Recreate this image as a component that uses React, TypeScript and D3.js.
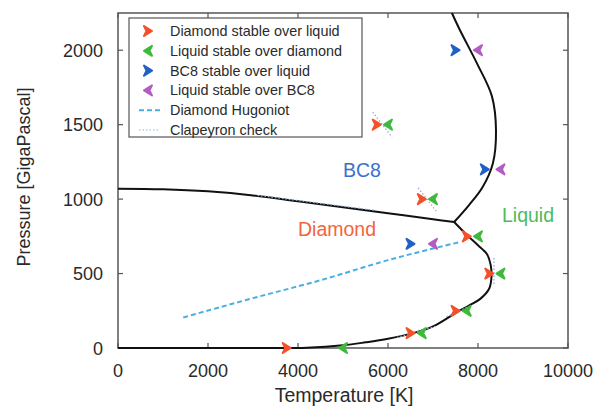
import React from "react";
import * as d3 from "d3";

const W = 601, H = 409;
const M = { left: 118, right: 568, top: 13, bottom: 348 };

const xTicks = [0, 2000, 4000, 6000, 8000, 10000];
const yTicks = [0, 500, 1000, 1500, 2000];

// [Temperature K, Pressure GPa]
const diamondStable: [number, number][] = [
  [3750, 0], [6500, 100], [7500, 250], [8250, 500], [7750, 750], [6750, 1000], [5750, 1500],
];
const liquidOverDiamond: [number, number][] = [
  [5000, 0], [6750, 100], [7750, 250], [8500, 500], [8000, 750], [7000, 1000], [6000, 1500],
];
const bc8Stable: [number, number][] = [
  [7500, 2000], [8150, 1200], [6500, 700],
];
const liquidOverBC8: [number, number][] = [
  [8000, 2000], [8500, 1200], [7000, 700],
];

const diamondBC8Boundary: [number, number][] = [
  [0, 1070], [1000, 1066], [2000, 1052], [3000, 1025], [4000, 985], [5000, 945],
  [6000, 905], [7000, 865], [7470, 846],
];
const meltingDiamond: [number, number][] = [
  [0, 0], [3000, 0], [4200, 2], [5000, 18], [5500, 38], [6000, 62], [6500, 95],
  [7000, 145], [7500, 235], [7800, 285], [8050, 330], [8250, 400], [8300, 480],
  [8280, 560], [8200, 630], [8000, 690], [7750, 760], [7470, 846],
];
const meltingBC8: [number, number][] = [
  [7470, 846], [7800, 960], [8100, 1080], [8330, 1240], [8400, 1460], [8310, 1690],
  [7980, 1910], [7600, 2134], [7420, 2250],
];
const hugoniot: [number, number][] = [
  [1450, 205], [3000, 335], [4500, 455], [6000, 590], [7600, 712],
];
const clapeyronSegments: [number, number][][] = [
  [[5660, 1585], [6090, 1415]],
  [[6670, 1075], [7090, 912]],
  [[8355, 605], [8355, 420]],
  [[3100, 1025], [5700, 925]],
  [[6200, 70], [7100, 150]],
  [[7300, 210], [7800, 280]],
];

const legendItems = [
  { label: "Diamond stable over liquid", kind: "right", color: "#f4502a" },
  { label: "Liquid stable over diamond", kind: "left", color: "#3cba3c" },
  { label: "BC8 stable over liquid", kind: "right", color: "#2160c4" },
  { label: "Liquid stable over BC8", kind: "left", color: "#b35cc4" },
  { label: "Diamond Hugoniot", kind: "hug", color: "#4aaee0" },
  { label: "Clapeyron check", kind: "clap", color: "#8fb4dd" },
];

const x = d3.scaleLinear().domain([0, 10000]).range([M.left, M.right]);
const y = d3.scaleLinear().domain([0, 2250]).range([M.bottom, M.top]);

const line = d3.line<[number, number]>().x(d => x(d[0])).y(d => y(d[1])).curve(d3.curveCatmullRom.alpha(0.5));
const smooth = d3.line<[number, number]>().x(d => x(d[0])).y(d => y(d[1])).curve(d3.curveMonotoneX);
const straight = d3.line<[number, number]>().x(d => x(d[0])).y(d => y(d[1]));

const RIGHT = "M-4,-5 L4,0 L-4,5 L-1.5,0 Z";
const LEFT = "M4,-5 L-4,0 L4,5 L1.5,0 Z";

function Marker({ cx, cy, kind, color }: { cx: number; cy: number; kind: string; color: string }) {
  return (
    <g transform={`translate(${cx},${cy})`}>
      <path d={kind === "right" ? RIGHT : LEFT} fill={color} stroke={color} strokeWidth={2} strokeLinejoin="round" />
    </g>
  );
}

export default function App() {
  const font = "'Liberation Sans', Arial, sans-serif";
  const axisColor = "#555";
  const ticks = 5;
  return (
    <svg width={W} height={H} style={{ position: "absolute", left: 0, top: 0, background: "#fff" }} fontFamily={font}>
      <rect x={0} y={0} width={W} height={H} fill="#fff" />
      <rect x={M.left} y={M.top} width={M.right - M.left} height={M.bottom - M.top} fill="none" stroke={axisColor} strokeWidth={1.5} />
      {xTicks.map(t => (
        <g key={"xt" + t}>
          <line x1={x(t)} x2={x(t)} y1={M.bottom} y2={M.bottom - ticks} stroke={axisColor} strokeWidth={1.2} />
          <line x1={x(t)} x2={x(t)} y1={M.top} y2={M.top + ticks} stroke={axisColor} strokeWidth={1.2} />
          <text x={x(t)} y={377} textAnchor="middle" fontSize={18} fill="#2a2a2a">{t}</text>
        </g>
      ))}
      {yTicks.map(t => (
        <g key={"yt" + t}>
          <line x1={M.left} x2={M.left + ticks} y1={y(t)} y2={y(t)} stroke={axisColor} strokeWidth={1.2} />
          <line x1={M.right} x2={M.right - ticks} y1={y(t)} y2={y(t)} stroke={axisColor} strokeWidth={1.2} />
          <text x={103} y={y(t) + 6.5} textAnchor="end" fontSize={18} fill="#2a2a2a">{t}</text>
        </g>
      ))}
      <text x={344} y={402} textAnchor="middle" fontSize={19.5} fill="#2a2a2a">Temperature [K]</text>
      <text transform={`translate(30,177) rotate(-90)`} textAnchor="middle" fontSize={18} fill="#2a2a2a">Pressure [GigaPascal]</text>

      <path d={smooth(hugoniot) || ""} fill="none" stroke="#4aaee0" strokeWidth={2} strokeDasharray="5,3" />

      <path d={line(diamondBC8Boundary) || ""} fill="none" stroke="#111" strokeWidth={2} />
      <path d={line(meltingDiamond) || ""} fill="none" stroke="#111" strokeWidth={2} />
      <path d={line(meltingBC8) || ""} fill="none" stroke="#111" strokeWidth={2} />

      {clapeyronSegments.map((s, i) => (
        <path key={"c" + i} d={straight(s) || ""} fill="none" stroke="#8fa8d8" strokeWidth={1.2} strokeDasharray="1.5,2" />
      ))}

      <text x={343} y={177} fontSize={19.5} fill="#3a6fd0">BC8</text>
      <text x={298} y={236} fontSize={19.5} fill="#f4643a">Diamond</text>
      <text x={502} y={222} fontSize={19.5} fill="#4cbc5c">Liquid</text>

      {diamondStable.map((d, i) => <Marker key={"ds" + i} cx={x(d[0])} cy={y(d[1])} kind="right" color="#f4502a" />)}
      {liquidOverDiamond.map((d, i) => <Marker key={"ld" + i} cx={x(d[0])} cy={y(d[1])} kind="left" color="#3cba3c" />)}
      {bc8Stable.map((d, i) => <Marker key={"bs" + i} cx={x(d[0])} cy={y(d[1])} kind="right" color="#2160c4" />)}
      {liquidOverBC8.map((d, i) => <Marker key={"lb" + i} cx={x(d[0])} cy={y(d[1])} kind="left" color="#b35cc4" />)}

      <rect x={129} y={18} width={233} height={119} fill="#fff" stroke={axisColor} strokeWidth={1.2} />
      {legendItems.map((it, i) => {
        const ly = 31 + i * 19.8;
        return (
          <g key={"lg" + i}>
            {it.kind === "right" || it.kind === "left" ? (
              <Marker cx={148} cy={ly} kind={it.kind} color={it.color} />
            ) : it.kind === "hug" ? (
              <line x1={139} x2={160} y1={ly} y2={ly} stroke={it.color} strokeWidth={2} strokeDasharray="5,3" />
            ) : (
              <line x1={139} x2={160} y1={ly} y2={ly} stroke={it.color} strokeWidth={1.2} strokeDasharray="1.5,2" />
            )}
            <text x={170} y={ly + 5} fontSize={14.4} fill="#2a2a2a">{it.label}</text>
          </g>
        );
      })}
    </svg>
  );
}
